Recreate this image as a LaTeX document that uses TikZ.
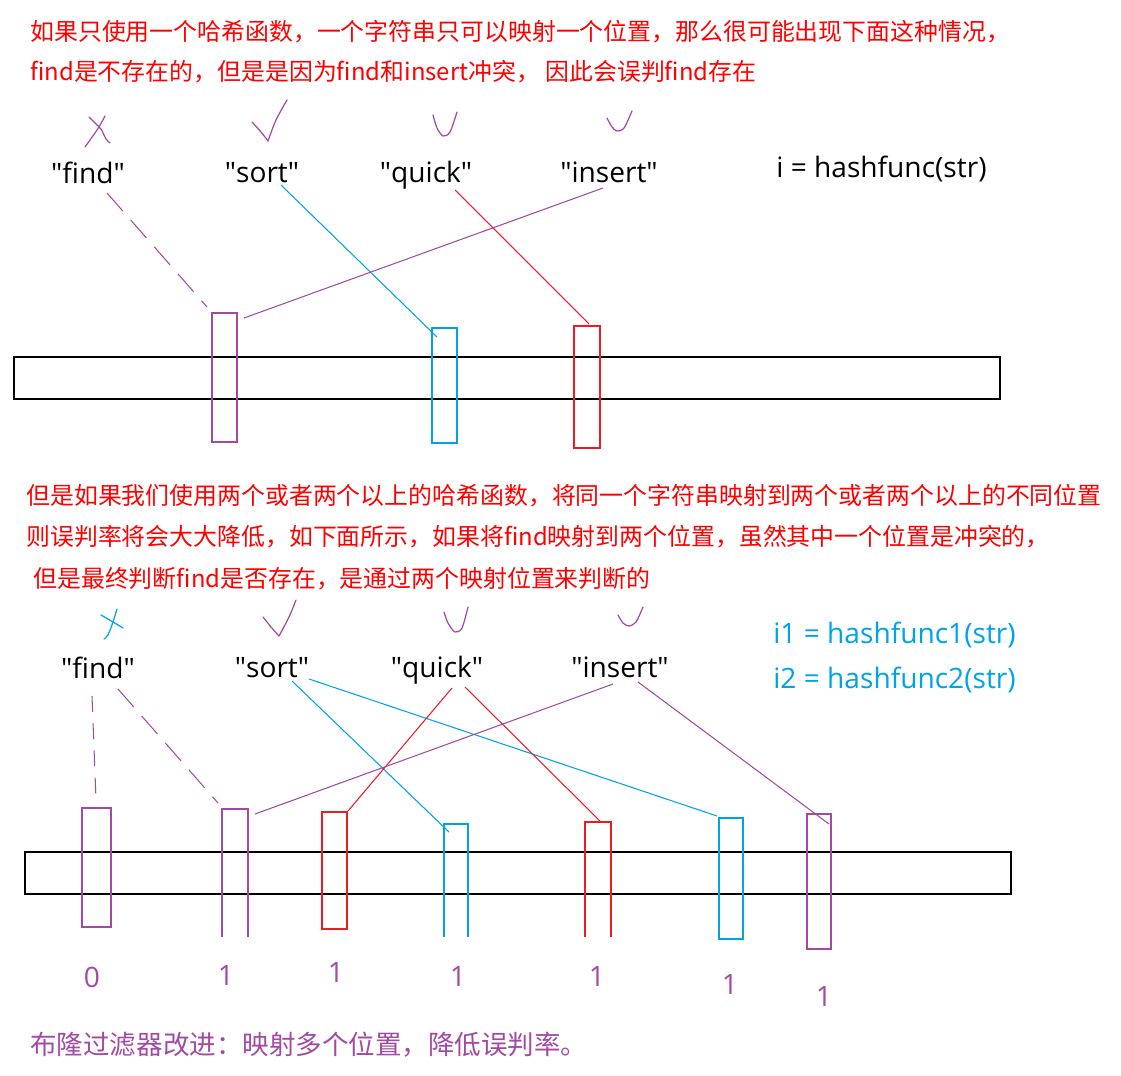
\documentclass[tikz,border=0pt]{standalone}
\usepackage{fontspec}
\setmainfont{Open Sans}
\newfontfamily\cjk{Noto Sans CJK SC}
\newcommand{\qt}{\textquotedbl}
\definecolor{penpurple}{HTML}{A349A4}
\definecolor{penblue}{HTML}{00A2E8}
\definecolor{penred}{HTML}{ED1C24}
\definecolor{textred}{HTML}{FF0000}

\begin{document}
\begin{tikzpicture}[x=0.02cm,y=-0.02cm,
  note/.style={anchor=west,inner sep=0pt,font=\cjk\fontsize{13.6}{16}\selectfont},
  word/.style={anchor=base,inner sep=0pt,font=\fontsize{16}{19}\selectfont},
  bit/.style={inner sep=0pt,text=penpurple,font=\fontsize{16}{19}\selectfont},
  bar/.style={line width=0.9pt},
  slot/.style={line width=0.8pt},
  link/.style={line width=0.6pt},
  longdash/.style={link,dash pattern=on 13.6pt off 6.8pt},
  tick/.style={line width=0.7pt,line cap=round,line join=round}]
  \useasboundingbox (0,0) rectangle (1121,1075);

  % top text
  \node[note,text=textred] (t1) at (30,32) {如果只使用一个哈希函数，一个字符串只可以映射一个位置，那么很可能出现下面这种情况，};
  \node[note,text=textred] (t2) at (30,72) {find是不存在的，但是是因为find和insert冲突， 因此会误判find存在};

  % one hash function
  \node[word] (find) at (88,183) {\qt find\qt};
  \node[word] (sort) at (262,182) {\qt sort\qt};
  \node[word] (quick) at (426,182) {\qt quick\qt};
  \node[word] (insert) at (609,182) {\qt insert\qt};
  \node[word,anchor=base west] (hash) at (776,177) {i = hashfunc(str)};

  \draw[tick,penpurple] plot[smooth] coordinates {(89,117) (96,124) (101,129) (106,139) (110,143)};
  \draw[tick,penpurple] plot[smooth] coordinates {(105,116) (99,127) (95,133) (85,147)};
  \draw[tick,penpurple] plot[smooth] coordinates {(252,122) (261,132) (268,141)};
  \draw[tick,penpurple] plot[smooth] coordinates {(268,141) (276,120) (287,100)};
  \draw[tick,penpurple] plot[smooth] coordinates {(433,115) (437,128) (443,136) (450,132) (457,112)};
  \draw[tick,penpurple] plot[smooth] coordinates {(607,118) (612,127) (617,131) (624,128) (632,111)};

  \draw[bar] (14,357) rectangle (1000,399);
  \draw[slot,penpurple] (212,313) rectangle (237,442);
  \draw[slot,penblue] (432,328) rectangle (457,443);
  \draw[slot,penred] (574,326) rectangle (600,448);

  \coordinate (f0) at (107,193);
  \coordinate (f1) at (207,307);
  \coordinate (s0) at (281,185);
  \coordinate (s1) at (437,337);
  \coordinate (q0) at (455,190);
  \coordinate (q1) at (589,324);
  \coordinate (n0) at (603,188);
  \coordinate (n1) at (244,318);
  \draw[longdash,penpurple] (f0) -- (f1);
  \draw[link,penblue] (s0) -- (s1);
  \draw[link,penred] (q0) -- (q1);
  \draw[link,penpurple] (n0) -- (n1);

  % middle text
  \node[note,text=textred] (m1) at (26,496) {但是如果我们使用两个或者两个以上的哈希函数，将同一个字符串映射到两个或者两个以上的不同位置};
  \node[note,text=textred] (m2) at (26,537) {则误判率将会大大降低，如下面所示，如果将find映射到两个位置，虽然其中一个位置是冲突的，};
  \node[note,text=textred] (m3) at (33,579) {但是最终判断find是否存在，是通过两个映射位置来判断的};

  % two hash functions
  \node[word] (find2) at (98,678) {\qt find\qt};
  \node[word] (sort2) at (272,677) {\qt sort\qt};
  \node[word] (quick2) at (437,677) {\qt quick\qt};
  \node[word] (insert2) at (620,677) {\qt insert\qt};
  \node[word,anchor=base west,text=penblue] (hash1) at (773,643) {i1 = hashfunc1(str)};
  \node[word,anchor=base west,text=penblue] (hash2) at (773,688) {i2 = hashfunc2(str)};

  \draw[tick,penblue] plot[smooth] coordinates {(101,615) (113,622) (123,628)};
  \draw[tick,penblue] plot[smooth] coordinates {(117,609) (113,622) (108,635) (104,639)};
  \draw[tick,penpurple] plot[smooth] coordinates {(263,617) (271,627) (279,636)};
  \draw[tick,penpurple] plot[smooth] coordinates {(279,636) (289,617) (296,600)};
  \draw[tick,penpurple] plot[smooth] coordinates {(444,612) (448,623) (455,632) (462,628) (468,607)};
  \draw[tick,penpurple] plot[smooth] coordinates {(618,615) (623,623) (629,626) (636,622) (643,607)};

  \draw[bar] (25,852) rectangle (1011,894);
  \draw[slot,penpurple] (82,808) rectangle (111,927);
  \draw[slot,penpurple] (222,937) |- (248,809) -- (248,937);
  \draw[slot,penred] (322,812) rectangle (347,929);
  \draw[slot,penblue] (444,937) |- (468,824) -- (468,937);
  \draw[slot,penred] (585,937) |- (611,822) -- (611,937);
  \draw[slot,penblue] (719,818) rectangle (743,939);
  \draw[slot,penpurple] (807,814) rectangle (831,949);

  \coordinate (fa0) at (92,696);
  \coordinate (fa1) at (96,800);
  \coordinate (fb0) at (118,689);
  \coordinate (fb1) at (218,803);
  \coordinate (sa0) at (292,681);
  \coordinate (sa1) at (449,832);
  \coordinate (sb0) at (309,679);
  \coordinate (sb1) at (717,816);
  \coordinate (qa0) at (452,688);
  \coordinate (qa1) at (348,811);
  \coordinate (qb0) at (465,687);
  \coordinate (qb1) at (600,821);
  \coordinate (na0) at (613,684);
  \coordinate (na1) at (255,814);
  \coordinate (nb0) at (638,682);
  \coordinate (nb1) at (829,824);
  \draw[link,penpurple,dash pattern=on 9pt off 6.5pt] (fa0) -- (fa1);
  \draw[longdash,penpurple] (fb0) -- (fb1);
  \draw[link,penblue] (sa0) -- (sa1);
  \draw[link,penblue] (sb0) -- (sb1);
  \draw[link,penred] (qa0) -- (qa1);
  \draw[link,penred] (qb0) -- (qb1);
  \draw[link,penpurple] (na0) -- (na1);
  \draw[link,penpurple] (nb0) -- (nb1);

  \node[bit] (b1) at (92,977) {0};
  \node[bit] (b2) at (226,975) {1};
  \node[bit] (b3) at (336,972) {1};
  \node[bit] (b4) at (458,976) {1};
  \node[bit] (b5) at (597,976) {1};
  \node[bit] (b6) at (730,984) {1};
  \node[bit] (b7) at (824,996) {1};

  % bottom text
  \node[note,text=penpurple,font=\cjk\fontsize{15.1}{18}\selectfont] (t3) at (30,1045) {布隆过滤器改进：映射多个位置，降低误判率。};
\end{tikzpicture}
\end{document}
